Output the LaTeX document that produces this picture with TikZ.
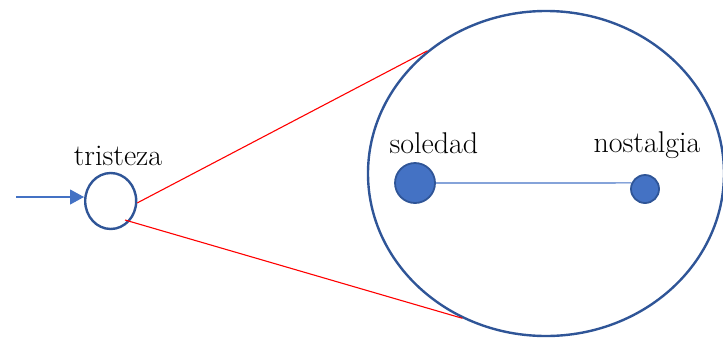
\documentclass[tikz,border=0pt]{standalone}
\usetikzlibrary{shapes.geometric, arrows.meta, positioning}
\definecolor{ringblue}{HTML}{2F5597}
\definecolor{dotblue}{HTML}{4472C4}

\begin{document}
\begin{tikzpicture}[x=1pt, y=-1pt,
        ring/.style={
            ellipse, draw=ringblue, line width=2.4pt,
            inner sep=0pt
        },
        dot/.style={
            circle, draw=ringblue, line width=1.8pt,
            fill=dotblue, inner sep=0pt
        },
        word/.style={font=\fontsize{30}{35}\selectfont, anchor=base, inner sep=0pt},
        zoomline/.style={red, line width=1.1pt},
        feed/.style={-{Triangle[length=14pt, width=15pt]}, dotblue, line width=1.1pt},
        link/.style={dotblue, line width=1.1pt}
    ]
        \useasboundingbox (0,0) rectangle (723,338);

        \node[ring, minimum width=356pt, minimum height=325pt] (big) at (546,173.5) {};
        \node[ring, minimum width=51pt, minimum height=56pt] (tri) at (110.7,201) {};

        \node[dot, minimum size=40pt] (sol) at (415,183) {};
        \node[dot, minimum size=28pt] (nos) at (645,189) {};

        \node[word] (tril) at (118,165) {tristeza};
        \node[word] (soll) at (434,153) {soledad};
        \node[word] (nosl) at (647,152) {nostalgia};

        \coordinate (start) at (16,197);
        \coordinate (lowin) at (125,220);

        \draw[feed] (start) -- (start -| tri.west);
        \draw[zoomline] (tri.-4) -- (big.134);
        \draw[zoomline] (lowin) -- (big.240);
        \draw[link] (sol.east) -- (nos.156);
    \end{tikzpicture}
\end{document}
